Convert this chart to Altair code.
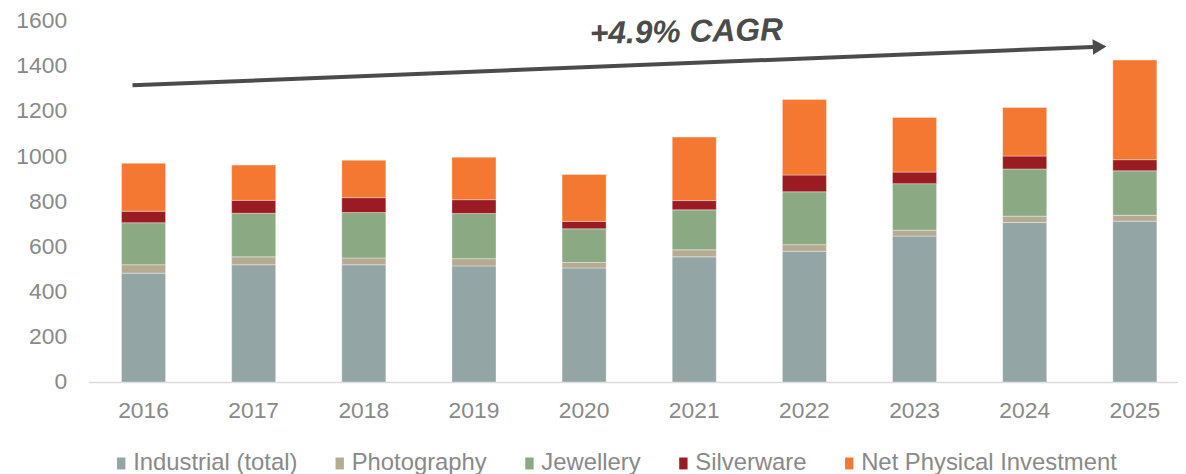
import altair as alt
import pandas as pd

years = ["2016", "2017", "2018", "2019", "2020", "2021", "2022", "2023", "2024", "2025"]
series = ["Industrial (total)", "Photography", "Jewellery", "Silverware", "Net Physical Investment"]
colors = ["#93A5A4", "#B5AB93", "#8BAA84", "#9A1B22", "#F47831"]

industrial = [482, 519, 519, 514, 505, 554, 579, 646, 706, 712]
photography = [37, 35, 30, 32, 24, 31, 29, 26, 28, 26]
jewellery = [186, 193, 201, 200, 149, 177, 234, 206, 209, 197]
silverware = [51, 57, 66, 61, 33, 41, 74, 51, 57, 49]
net_physical_investment = [212, 156, 166, 188, 208, 281, 334, 242, 215, 441]

y_ticks = [0, 200, 400, 600, 800, 1000, 1200, 1400, 1600]

# CAGR annotation, in (fractional year, value) units
cagr_label = "+4.9% CAGR"
arrow_x = [2015.90, 2024.62]
arrow_y = [1313, 1483]
head_x = [2024.68]
head_y = [1484]
label_x = [2020.93]
label_y = [1505]

values = [industrial, photography, jewellery, silverware, net_physical_investment]
rows = []
for si, (name, vals) in enumerate(zip(series, values)):
    for yr, v in zip(years, vals):
        rows.append({"year": yr, "series": name, "value": v, "order": si})
df = pd.DataFrame(rows)

FONT = "Liberation Sans"
GREY = "#898989"
DARK = "#4B4B4B"

x_scale = alt.Scale(domain=years, range=[0, 1109], paddingInner=0.6, paddingOuter=0.3)
y_scale = alt.Scale(domain=[0, 1600], nice=False)
xa_scale = alt.Scale(domain=[2015.5, 2025.5], range=[0, 1109], nice=False, zero=False)

bars = alt.Chart(df).mark_bar(stroke="white", strokeWidth=0.6, strokeOpacity=0.6).encode(
    x=alt.X("year:N", scale=x_scale, sort=years,
            axis=alt.Axis(title=None, labelAngle=0, labelFontSize=23, labelColor=GREY,
                          labelFont=FONT, domainColor="#D9D9D9", domainWidth=1.5,
                          ticks=False, labelPadding=18)),
    y=alt.Y("value:Q", stack="zero", scale=y_scale,
            axis=alt.Axis(title=None, values=y_ticks, format="d", labelFontSize=23,
                          labelColor=GREY, labelFont=FONT, domain=False, ticks=False,
                          grid=False, labelPadding=22)),
    color=alt.Color("series:N", sort=series,
                    scale=alt.Scale(domain=series, range=colors),
                    legend=alt.Legend(title=None, orient="none", direction="horizontal",
                                      legendX=21, legendY=434, padding=0,
                                      symbolType="M-0.7,-1H0.7V1H-0.7Z", symbolSize=144,
                                      symbolStrokeWidth=0, labelOffset=0,
                                      columnPadding=30, labelFontSize=24,
                                      labelColor=GREY, labelFont=FONT, labelLimit=400)),
    order=alt.Order("order:Q", sort="ascending"),
)

arrow_df = pd.DataFrame({"ax": [arrow_x[0]], "ax2": [arrow_x[1]],
                         "ay": [arrow_y[0]], "ay2": [arrow_y[1]]})
arrow = alt.Chart(arrow_df).mark_rule(color=DARK, strokeWidth=4, strokeCap="butt").encode(
    x=alt.X("ax:Q", scale=xa_scale, axis=None),
    x2=alt.X2("ax2"),
    y=alt.Y("ay:Q", scale=y_scale),
    y2=alt.Y2("ay2"),
)

head_df = pd.DataFrame({"ax": head_x, "ay": head_y})
head = alt.Chart(head_df).mark_point(shape="triangle-right", filled=True, size=250,
                                     color=DARK, opacity=1, angle=357.7).encode(
    x=alt.X("ax:Q", scale=xa_scale, axis=None),
    y=alt.Y("ay:Q", scale=y_scale),
)

text_df = pd.DataFrame({"ax": label_x, "ay": label_y, "label": [cagr_label]})
label = alt.Chart(text_df).mark_text(font=FONT, fontSize=32, fontWeight="bold",
                                     fontStyle="italic", color=DARK, align="center",
                                     baseline="alphabetic", angle=358.8).encode(
    x=alt.X("ax:Q", scale=xa_scale, axis=None),
    y=alt.Y("ay:Q", scale=y_scale),
    text="label:N",
)

annotations = alt.layer(arrow, head, label)

chart = alt.layer(bars, annotations).resolve_scale(x="independent").properties(
    width=1097, height=364,
    autosize=alt.AutoSizeParams(type="none"),
    padding={"left": 81, "top": 11, "right": 0, "bottom": 91},
).configure_view(strokeWidth=0)

chart.save("out.html", embed_options={"renderer": "svg", "actions": False})
